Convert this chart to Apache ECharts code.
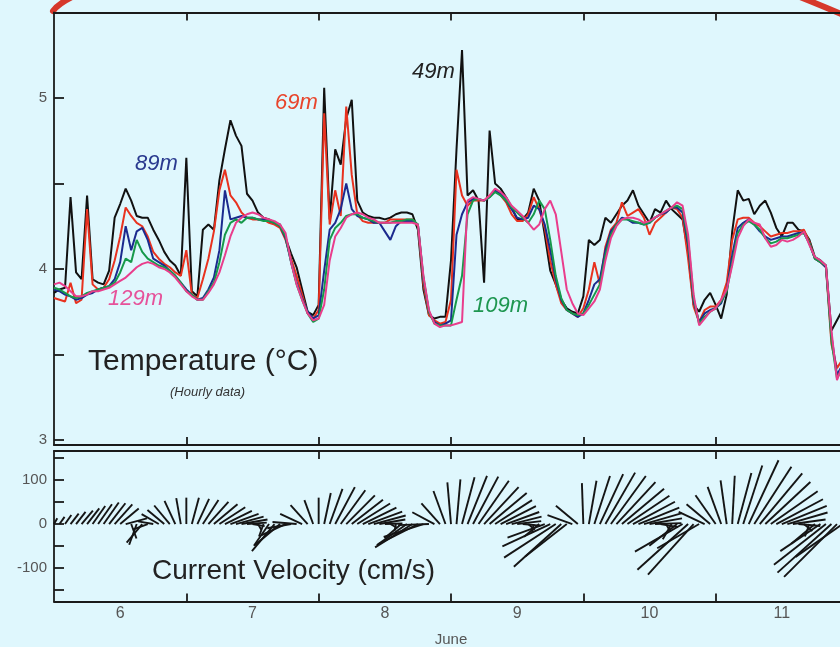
<!DOCTYPE html>
<html><head><meta charset="utf-8">
<script src="https://cdn.jsdelivr.net/npm/echarts@6/dist/echarts.min.js"></script>
<style>html,body{margin:0;padding:0;background:#dff7fd;}#c{width:840px;height:647px;}</style>
</head><body><div id="c"></div>
<script>
// Hourly samples starting June 6, 00:00
const startDay = 6;
const dayLabels = ['6','7','8','9','10','11'];
const tempTicks = [3, 3.5, 4, 4.5, 5];
const tempLabels = [3, 4, 5];
const velTicks = [-150, -100, -50, 0, 50, 100, 150];
const velLabels = [-100, 0, 100];

const temp49 = [3.86,3.88,3.89,4.42,3.98,3.94,4.43,3.94,3.92,3.91,3.99,4.30,4.38,4.47,4.40,4.31,4.30,4.30,4.23,4.17,4.10,4.05,4.02,3.96,
 4.65,3.87,3.84,4.23,4.26,4.23,4.52,4.70,4.87,4.78,4.72,4.44,4.40,4.33,4.30,4.29,4.27,4.26,4.18,4.09,4.01,3.88,3.75,3.73,
 3.79,5.06,4.29,4.70,4.61,4.88,4.99,4.40,4.33,4.31,4.30,4.30,4.29,4.30,4.32,4.33,4.33,4.32,4.23,3.88,3.73,3.71,3.72,3.72,
 4.05,4.70,5.28,4.43,4.46,4.40,3.92,4.81,4.50,4.47,4.42,4.36,4.29,4.29,4.33,4.47,4.40,4.20,3.99,3.91,3.82,3.77,3.75,3.74,
 3.84,4.17,4.14,4.17,4.30,4.27,4.32,4.37,4.40,4.46,4.37,4.32,4.27,4.35,4.33,4.40,4.35,4.32,4.29,4.10,3.79,3.75,3.82,3.86,
 3.79,3.71,3.85,4.22,4.46,4.40,4.41,4.32,4.37,4.40,4.33,4.24,4.19,4.27,4.27,4.23,4.22,4.17,4.07,4.05,4.02,3.64,3.70,3.76];
const temp69 = [3.83,3.82,3.81,3.92,3.80,3.82,4.35,3.91,3.88,3.89,3.94,4.05,4.19,4.36,4.31,4.27,4.25,4.19,4.10,4.06,4.03,4.01,3.98,3.96,
 4.11,3.85,3.83,3.94,4.06,4.22,4.46,4.58,4.43,4.39,4.33,4.30,4.29,4.29,4.29,4.27,4.26,4.24,4.17,4.06,3.96,3.85,3.74,3.71,
 3.76,4.91,4.26,4.46,4.31,4.95,4.55,4.32,4.28,4.27,4.27,4.27,4.27,4.29,4.29,4.29,4.29,4.29,4.25,3.91,3.73,3.70,3.68,3.69,
 3.82,4.58,4.43,4.37,4.40,4.40,4.40,4.43,4.46,4.43,4.39,4.32,4.28,4.28,4.32,4.42,4.35,4.24,4.05,3.91,3.80,3.76,3.74,3.72,
 3.77,3.88,4.04,3.91,4.13,4.23,4.27,4.39,4.31,4.33,4.35,4.30,4.20,4.27,4.30,4.33,4.36,4.35,4.30,4.06,3.78,3.69,3.76,3.78,
 3.78,3.82,3.92,4.17,4.29,4.30,4.30,4.27,4.25,4.22,4.19,4.20,4.21,4.21,4.22,4.22,4.23,4.16,4.06,4.04,4.01,3.56,3.42,3.47];
const temp89 = [3.88,3.87,3.85,3.84,3.82,3.83,3.85,3.86,3.88,3.89,3.90,3.94,4.04,4.25,4.11,4.22,4.24,4.17,4.06,4.04,4.02,3.99,3.96,3.92,
 3.88,3.85,3.82,3.83,3.88,3.95,4.11,4.46,4.29,4.30,4.31,4.30,4.30,4.29,4.29,4.28,4.27,4.25,4.18,4.04,3.92,3.83,3.75,3.71,
 3.73,3.99,4.23,4.27,4.35,4.50,4.35,4.31,4.30,4.29,4.27,4.27,4.22,4.17,4.25,4.28,4.28,4.28,4.26,3.94,3.75,3.69,3.67,3.68,
 3.70,4.20,4.32,4.39,4.41,4.41,4.40,4.42,4.46,4.44,4.40,4.35,4.30,4.29,4.30,4.37,4.35,4.26,4.11,3.94,3.82,3.76,3.74,3.72,
 3.74,3.82,3.91,3.94,4.11,4.22,4.26,4.30,4.29,4.27,4.27,4.26,4.27,4.30,4.32,4.33,4.36,4.36,4.33,4.14,3.81,3.69,3.74,3.76,
 3.77,3.80,3.88,4.08,4.24,4.27,4.29,4.26,4.22,4.19,4.17,4.18,4.19,4.19,4.20,4.21,4.21,4.15,4.06,4.04,4.01,3.61,3.38,3.44];
const temp109 = [3.89,3.88,3.86,3.84,3.83,3.84,3.86,3.87,3.88,3.89,3.90,3.92,3.98,4.06,4.04,4.17,4.10,4.06,4.04,4.02,4.01,3.99,3.96,3.92,
 3.87,3.85,3.82,3.82,3.87,3.92,4.04,4.20,4.27,4.29,4.27,4.30,4.30,4.29,4.28,4.28,4.27,4.25,4.19,4.04,3.91,3.82,3.74,3.69,
 3.71,3.88,4.17,4.24,4.27,4.31,4.32,4.32,4.30,4.29,4.28,4.27,4.27,4.27,4.28,4.28,4.29,4.29,4.26,3.95,3.75,3.68,3.67,3.67,
 3.67,3.82,3.96,4.32,4.40,4.41,4.40,4.42,4.45,4.43,4.40,4.36,4.33,4.30,4.27,4.32,4.40,4.35,4.17,3.96,3.83,3.76,3.74,3.73,
 3.74,3.79,3.85,3.91,4.08,4.20,4.26,4.29,4.29,4.28,4.27,4.26,4.27,4.30,4.32,4.34,4.36,4.37,4.35,4.17,3.83,3.68,3.72,3.75,
 3.77,3.81,3.87,4.04,4.21,4.26,4.28,4.26,4.23,4.18,4.15,4.16,4.18,4.18,4.19,4.20,4.21,4.15,4.06,4.04,4.02,3.58,3.36,3.42];
const temp129 = [3.91,3.92,3.90,3.87,3.84,3.84,3.85,3.87,3.87,3.88,3.89,3.91,3.93,3.95,3.98,4.01,4.03,4.04,4.03,4.01,4.00,3.98,3.95,3.91,
 3.87,3.84,3.82,3.82,3.86,3.91,3.98,4.08,4.19,4.27,4.30,4.32,4.33,4.32,4.30,4.29,4.28,4.26,4.21,4.04,3.91,3.82,3.74,3.70,
 3.71,3.79,4.05,4.19,4.24,4.30,4.32,4.33,4.32,4.30,4.29,4.27,4.27,4.27,4.27,4.27,4.27,4.27,4.26,3.96,3.76,3.68,3.66,3.67,
 3.67,3.68,3.69,4.40,4.42,4.41,4.40,4.43,4.47,4.45,4.42,4.37,4.34,4.31,4.27,4.23,4.26,4.35,4.40,4.32,4.10,3.88,3.80,3.74,
 3.73,3.77,3.81,3.88,4.05,4.18,4.25,4.29,4.30,4.30,4.29,4.27,4.28,4.30,4.32,4.34,4.36,4.39,4.37,4.20,3.85,3.67,3.71,3.75,
 3.77,3.82,3.88,4.02,4.18,4.25,4.29,4.27,4.26,4.18,4.13,4.14,4.17,4.16,4.17,4.19,4.22,4.14,4.07,4.05,4.02,3.64,3.35,3.44];

// Current: speed (cm/s) and direction (deg clockwise from north), hourly
const currentSpeed = [15,20,25,30,35,40,45,50,55,60,60,60,55,50,35,50,55,35,35,45,50,55,58,60,
 60,62,63,65,68,70,70,68,68,65,60,45,28,15,30,60,80,75,60,55,55,55,58,58,
 60,72,85,95,95,92,90,88,85,82,75,60,40,18,15,50,80,100,105,95,70,57,63,80,
 95,102,110,118,122,120,115,110,100,90,80,70,55,40,20,20,45,90,120,140,145,120,60,65,
 93,100,115,125,135,135,130,125,115,108,100,90,75,60,40,20,40,80,125,155,155,110,65,70,
 80,90,100,110,120,140,160,155,150,140,130,120,110,95,75,50,25,30,70,110,150,165,170,130];
const currentDir = [30,35,35,38,38,40,38,35,35,35,38,42,50,75,160,200,220,250,280,300,310,320,335,350,
 0,15,25,33,42,50,57,64,70,75,80,86,100,150,200,215,220,230,245,260,275,295,318,340,
 0,12,20,28,36,45,52,58,64,70,75,80,88,120,190,230,235,238,243,252,268,298,318,340,
 355,5,15,22,28,35,43,50,57,63,70,76,83,95,130,190,230,250,245,237,228,232,290,310,
 358,10,18,25,30,36,43,50,56,62,68,74,80,88,100,150,210,232,240,228,222,240,295,310,
 325,340,352,3,15,18,25,33,40,47,55,62,68,74,82,95,130,200,230,236,232,228,225,235];

const toSeries = arr => arr.map((v, i) => [startDay + i / 24, v]);
const dayTicks = [7, 8, 9, 10, 11];
const dayLabelPos = dayLabels.map((d, i) => startDay + i + 0.5);

const axisCol = '#1a1a1a';
const font = '"Liberation Sans", Arial, Helvetica, sans-serif';
function xAx(grid, pos, labels) {
  return {
    type: 'value', gridIndex: grid, position: pos, min: 6, max: 12,
    axisLine: {show: true, onZero: false, lineStyle: {color: axisCol, width: 1.8}},
    axisTick: {show: true, inside: true, length: 8, customValues: dayTicks, lineStyle: {color: axisCol, width: 1.8}},
    axisLabel: labels ? {show: true, customValues: dayLabelPos, margin: 4, color: '#555', fontSize: 16, fontFamily: font,
      formatter: v => dayLabels[Math.floor(v) - startDay]} : {show: false},
    splitLine: {show: false},
    name: labels ? 'June' : '', nameLocation: 'middle', nameGap: 31,
    nameTextStyle: {color: '#555', fontSize: 15, fontFamily: font}
  };
}
const chart = echarts.init(document.getElementById('c'), null, {renderer: 'canvas'});
const lineStyle = (c) => ({color: c, width: 2});
function tline(name, data, color) {
  return {name, type: 'line', xAxisIndex: 0, yAxisIndex: 0, data: toSeries(data), showSymbol: false,
    lineStyle: lineStyle(color), itemStyle: {color}, animation: false, silent: true};
}
function label(text, x, y, color, size, italic) {
  return {type: 'text', left: x, top: y, style: {text, fill: color, font: (italic ? 'italic ' : '') + size + 'px ' + font}};
}
chart.setOption({
  backgroundColor: '#dff7fd',
  animation: false,
  grid: [
    {left: 54, top: 12.5, width: 794, height: 432.6, outerBoundsMode: 'none', containLabel: false},
    {left: 54, top: 451, width: 794, height: 150.5, outerBoundsMode: 'none', containLabel: false}
  ],
  xAxis: [xAx(0, 'bottom', false), xAx(0, 'top', false), xAx(1, 'bottom', true), xAx(1, 'top', false)],
  yAxis: [
    {type: 'value', gridIndex: 0, min: 2.97, max: 5.5,
     axisLine: {show: true, lineStyle: {color: axisCol, width: 1.8}},
     axisTick: {show: true, inside: true, length: 10, customValues: tempTicks, lineStyle: {color: axisCol, width: 1.8}},
     axisLabel: {customValues: tempLabels, margin: 7, color: '#555', fontSize: 15, fontFamily: font},
     splitLine: {show: false}},
    {type: 'value', gridIndex: 1, min: -176, max: 166,
     axisLine: {show: true, lineStyle: {color: axisCol, width: 1.8}},
     axisTick: {show: true, inside: true, length: 10, customValues: velTicks, lineStyle: {color: axisCol, width: 1.8}},
     axisLabel: {customValues: velLabels, margin: 7, color: '#555', fontSize: 15, fontFamily: font},
     splitLine: {show: false}}
  ],
  series: [
    tline('49m', temp49, '#111111'),
    tline('69m', temp69, '#e8321f'),
    tline('89m', temp89, '#1b2a8e'),
    tline('109m', temp109, '#16994a'),
    tline('129m', temp129, '#e93d8c'),
    {type: 'custom', xAxisIndex: 2, yAxisIndex: 1, animation: false, silent: true,
     data: currentSpeed.map((s, i) => [startDay + i / 24, s, currentDir[i]]),
     renderItem: (params, api) => {
       const t = api.value(0), s = api.value(1), d = api.value(2) * Math.PI / 180;
       const o = api.coord([t, 0]);
       const k = api.size([0, 1])[1];
       const u = s * Math.sin(d), v = s * Math.cos(d);
       return {type: 'line', shape: {x1: o[0], y1: o[1], x2: o[0] + u * k, y2: o[1] - v * k},
               style: {stroke: '#151515', lineWidth: 1.9}};
     }}
  ],
  graphic: [
    {type: 'bezierCurve', shape: {x1: 53, y1: 11, cpx1: 58, cpy1: 4, x2: 72, y2: -3}, style: {stroke: '#d6382b', lineWidth: 6, lineCap: 'round'}},
    {type: 'bezierCurve', shape: {x1: 800, y1: -3, cpx1: 820, cpy1: 5, x2: 846, y2: 16}, style: {stroke: '#d6382b', lineWidth: 6, lineCap: 'round'}},
    label('49m', 412, 61, '#222222', 22, true),
    label('69m', 275, 92, '#e8452c', 22, true),
    label('89m', 135, 153, '#2a3a8f', 22, true),
    label('129m', 108, 288, '#e6529a', 22, true),
    label('109m', 473, 295, '#1e9650', 22, true),
    label('Temperature (°C)', 88, 347, '#222222', 30, false),
    label('(Hourly data)', 170, 386, '#333333', 13, true),
    label('Current Velocity (cm/s)', 152, 557, '#222222', 28, false)
  ]
});
</script></body></html>
